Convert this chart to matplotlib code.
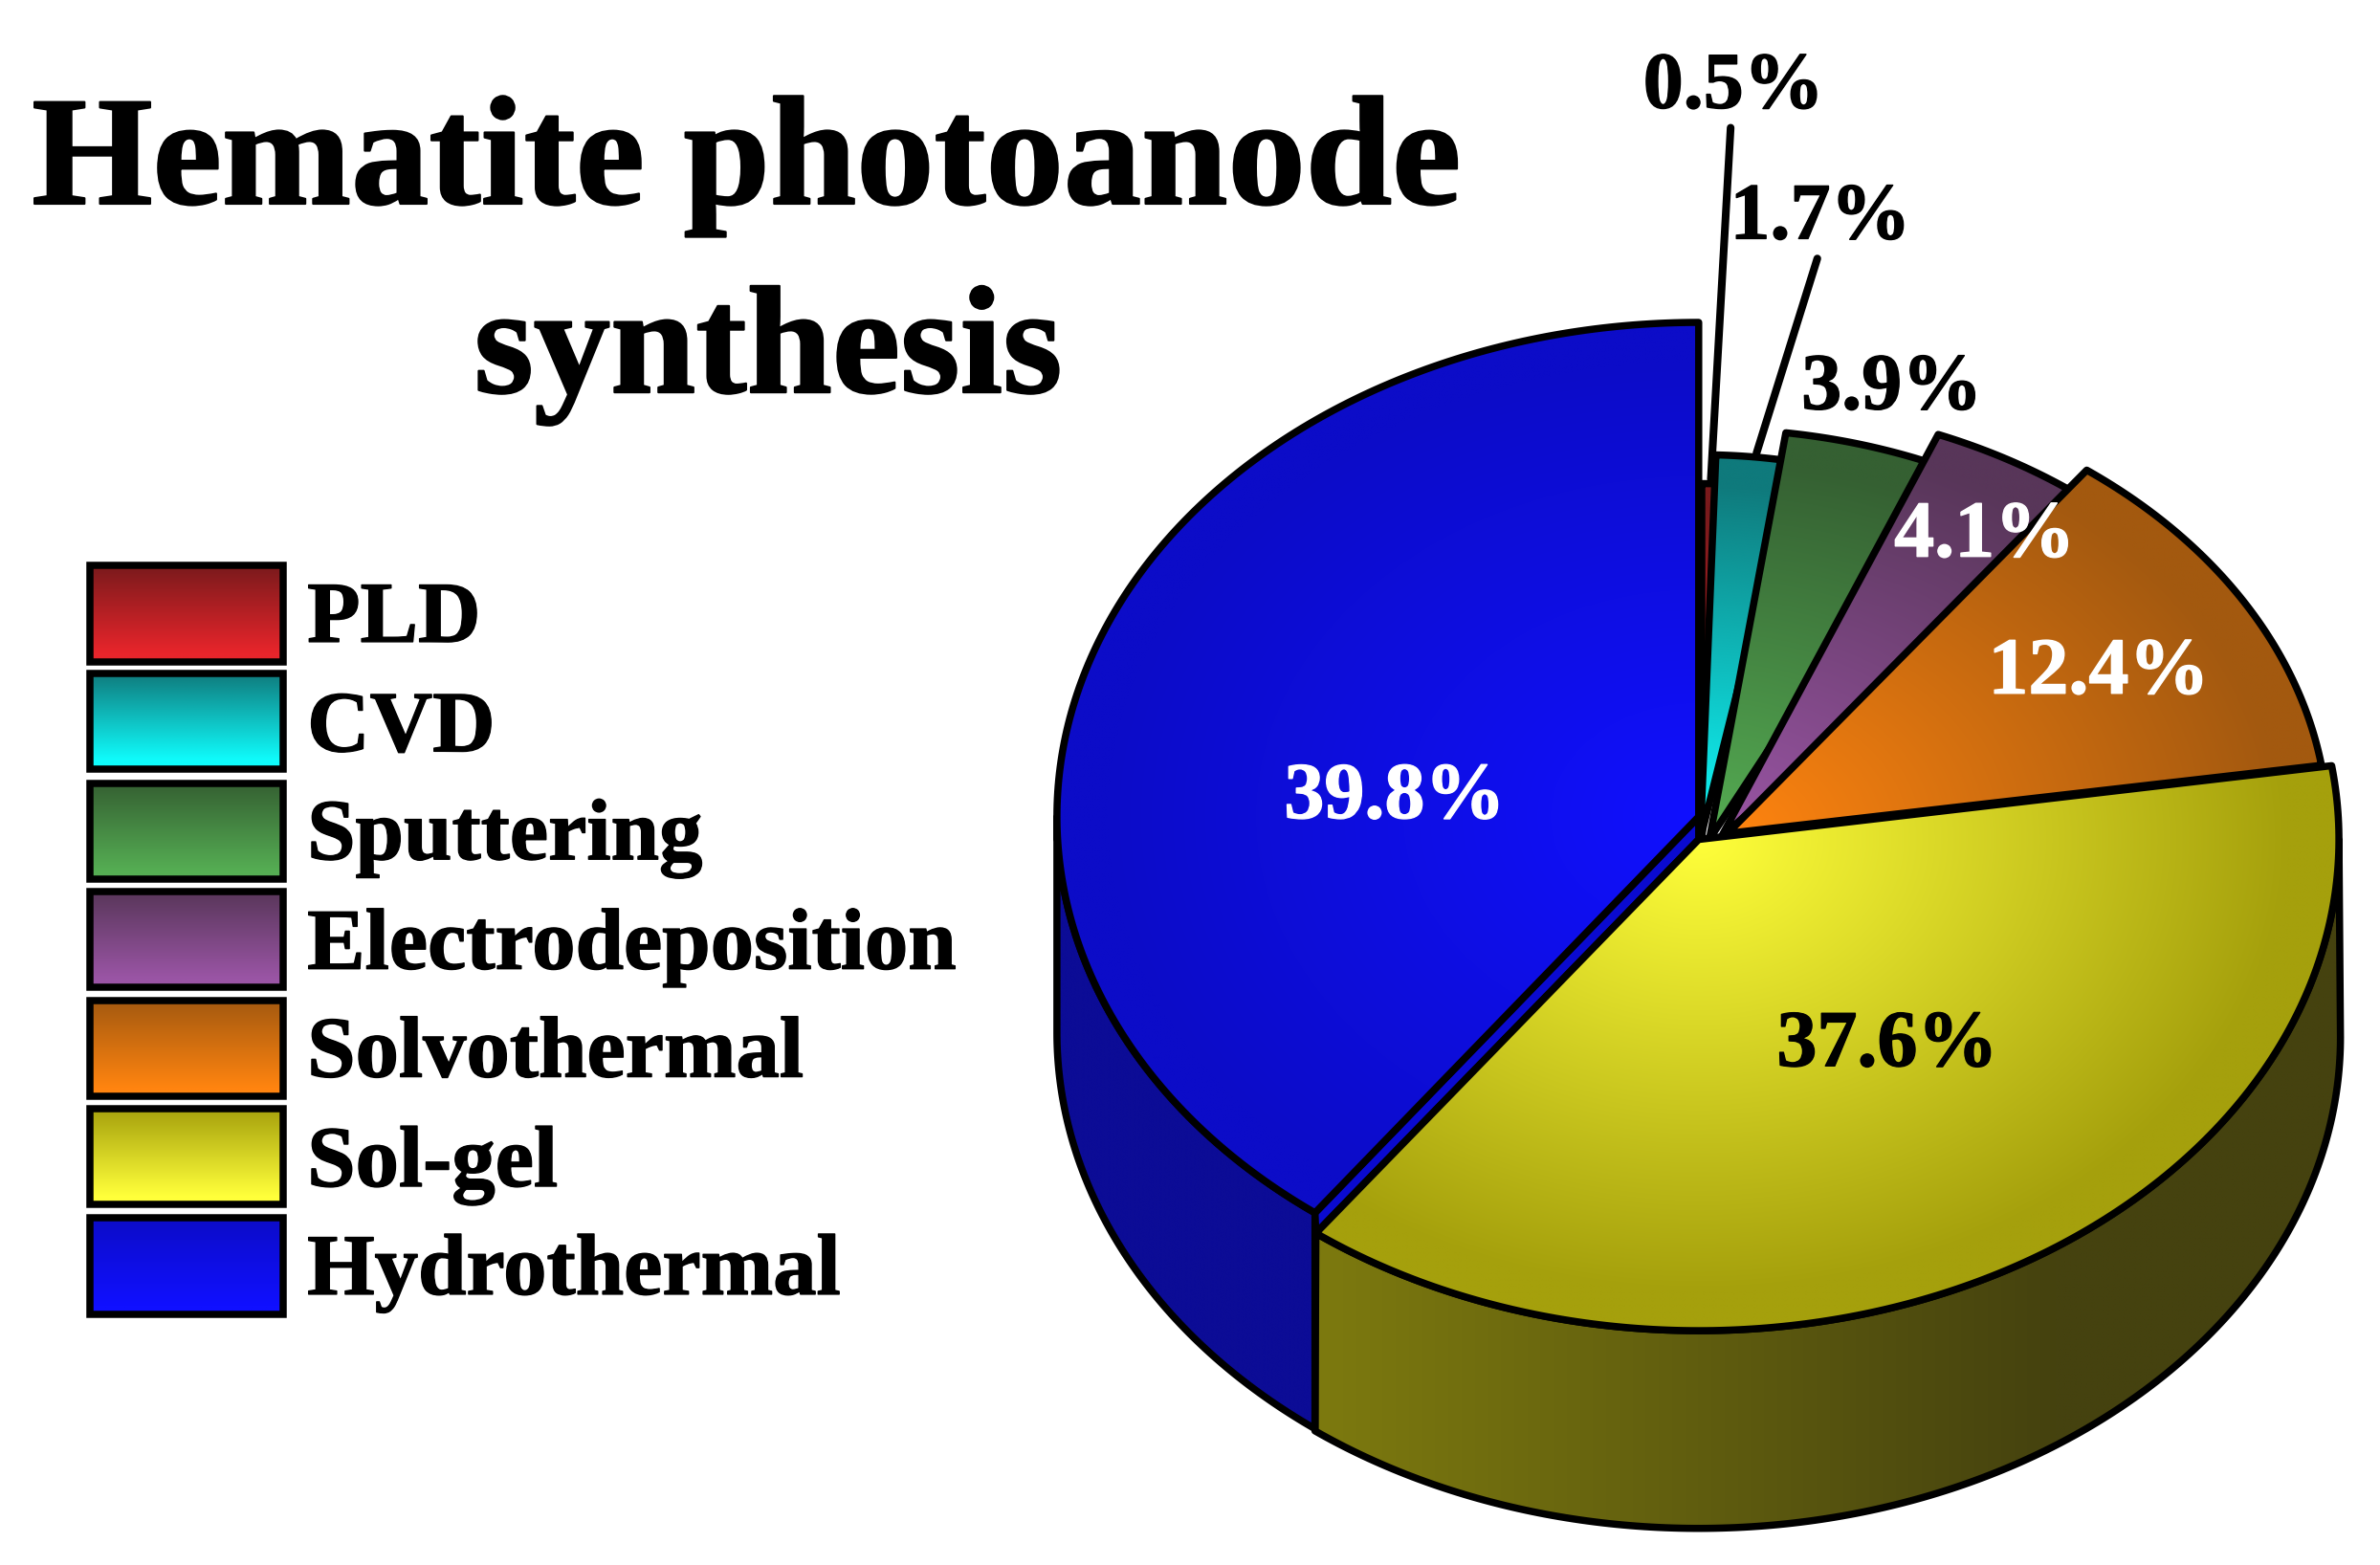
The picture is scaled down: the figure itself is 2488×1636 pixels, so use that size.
import numpy as np
import matplotlib
matplotlib.use("Agg")
import matplotlib.pyplot as plt
import matplotlib.patheffects as pe
from matplotlib.patches import Polygon, Rectangle
from matplotlib.colors import to_rgb

categories = ["PLD", "CVD", "Sputtering", "Electrodeposition", "Solvothermal", "Sol-gel", "Hydrothermal"]
percent = [0.5, 1.7, 3.9, 4.1, 12.4, 37.6, 39.8]
labels = ["0.5%", "1.7%", "3.9%", "4.1%", "12.4%", "37.6%", "39.8%"]

dark = ["#7a1a1c", "#0f7a7c", "#356032", "#583659", "#a3590f", "#a5a00c", "#0c0cc8"]
bright = ["#e8252b", "#0ffcfc", "#55ad53", "#9a55a5", "#ff8410", "#ffff3a", "#1010ff"]

# per-slice apex and radii (layout in reference units)
apex = [(1119, 552), (1118, 552), (1124, 552), (1132, 550), (1136, 548), (1117, 552), (1117, 537)]
radii = [(300, 234), (328, 253), (365, 270), (381, 285), (395, 298), (421, 323), (422, 325)]
overlap = [2, 3, 4, 4, 0, 0, 0]
draw_order = [0, 1, 2, 3, 4, 6, 5]
label_pos = [(1140, 58), (1197, 144), (1244, 256), (1305, 353), (1380, 443), (1241, 688), (917, 525)]
label_col = ["k", "k", "k", "w", "w", "k", "w"]

W, H = 2488, 1636
S = W / 1565.0
fig = plt.figure(figsize=(W / 100, H / 100), dpi=100)
ax = fig.add_axes([0, 0, 1, 1])
ax.set_xlim(0, W / S)
ax.set_ylim(H / S, 0)
ax.axis("off")
plt.rcParams["font.family"] = ["Liberation Serif", "DejaVu Serif"]
LW = 5.4


def arc(c, r, a0, a1, n=200):
    t = np.deg2rad(np.linspace(a0, a1, n))
    return np.column_stack([c[0] + r[0] * np.sin(t), c[1] - r[1] * np.cos(t)])


def fill_image(verts, func, z, lw=LW):
    xs, ys = verts[:, 0], verts[:, 1]
    x0, x1, y0, y1 = xs.min(), xs.max(), ys.min(), ys.max()
    gx, gy = np.meshgrid(np.linspace(x0, x1, 500), np.linspace(y0, y1, 500))
    im = ax.imshow(func(gx, gy), extent=(x0, x1, y1, y0), origin="upper", aspect="auto",
                   zorder=z, interpolation="bilinear")
    edge = Polygon(verts, closed=True, fc="none", ec="k", lw=lw, joinstyle="round", zorder=z + 0.1)
    ax.add_patch(edge)
    clip = Polygon(verts, closed=True, transform=ax.transData)
    im.set_clip_path(clip)
    return im


def mix(c0, c1, t):
    c0, c1 = np.array(to_rgb(c0)), np.array(to_rgb(c1))
    return c0[None, None, :] * (1 - t[..., None]) + c1[None, None, :] * t[..., None]


def stroke(col, w):
    return [pe.withStroke(linewidth=w, foreground=col)]


edges = np.concatenate([[0], np.cumsum(percent)]) * 3.6

# side walls
a_hydro = edges[6]
bot_y = (1117, 682)
bot_r = (422, 323)
bot_b = (1117, 679)
side_y = np.vstack([arc(bot_y, bot_r, a_hydro, 90), arc(apex[5], radii[5], 90, a_hydro)])
fill_image(side_y, lambda x, y: mix("#7d7a0e", "#45420f", np.clip((x - 865) / (1350 - 865), 0, 1)), 1)
side_b = np.vstack([arc(bot_b, radii[6], a_hydro, 270), arc(apex[6], radii[6], 270, a_hydro)])
fill_image(side_b, lambda x, y: mix("#0c0c96", "#0c0c96", np.zeros_like(x)), 1)

# inner cut of the hydrothermal slice
p_a = arc(apex[6], radii[6], a_hydro, a_hydro, 1)[0]
p_b = arc(apex[5], radii[5], a_hydro, a_hydro, 1)[0]
ax.add_patch(Polygon([apex[6], p_a, p_b, apex[5]], closed=True, fc="#0a0ad0", ec="k", lw=LW, zorder=2))

# top faces
for k, i in enumerate(draw_order):
    c, r = apex[i], radii[i]
    verts = np.vstack([[c], arc(c, r, edges[i], edges[i + 1] + overlap[i])])

    def radial(x, y, c=c, r=r, i=i):
        t = np.clip(np.hypot((x - c[0]) / r[0], (y - c[1]) / r[1]) / 0.92, 0, 1)
        return mix(bright[i], dark[i], t)

    fill_image(verts, radial, 3 + k)

# leader lines
ax.plot([1125, 1138], [315, 84], color="k", lw=5.8, solid_capstyle="round", zorder=12)
ax.plot([1155, 1195], [298, 170], color="k", lw=5.8, solid_capstyle="round", zorder=12)

# percent labels
for t, p, col in zip(labels, label_pos, label_col):
    ax.text(p[0], p[1], t, color=col, fontsize=60.5, fontweight="bold", ha="center", va="center", zorder=20,
            path_effects=stroke(col, 1.0))

# title
ax.text(491, 134, "Hematite photoanode", fontsize=117, fontweight="bold", ha="center", va="baseline", zorder=20,
        path_effects=stroke("k", 1.5))
ax.text(505, 258, "synthesis", fontsize=115.5, fontweight="bold", ha="center", va="baseline", zorder=20,
        path_effects=stroke("k", 1.5))

# legend
leg_top = [372, 443, 515, 586, 658, 729, 801]
leg_base = [422, 494, 565, 637, 708, 780, 851]
for i, name in enumerate(categories):
    x0, x1, y0, y1 = 59, 186, leg_top[i], leg_top[i] + 63
    grad = mix(dark[i], bright[i], np.clip(np.linspace(0, 1, 200) * 1.1, 0, 1)[:, None])
    im = ax.imshow(grad, extent=(x0, x1, y1, y0), origin="upper", aspect="auto", zorder=3)
    ax.add_patch(Rectangle((x0, y0), x1 - x0, y1 - y0, fc="none", ec="k", lw=LW, zorder=4))
    ax.text(202, leg_base[i], name, fontsize=65.3, fontweight="bold", va="baseline", ha="left", zorder=20,
            path_effects=stroke("k", 1.0))

ax.set_xlim(0, W / S)
ax.set_ylim(H / S, 0)
fig.savefig("out.png", dpi=100, facecolor="white")
